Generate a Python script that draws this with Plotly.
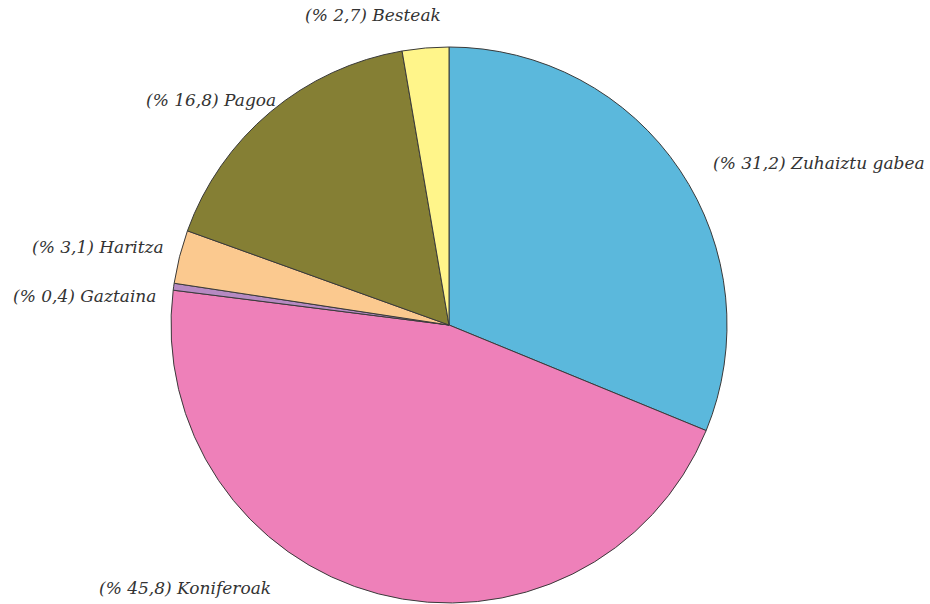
import plotly.graph_objects as go

categories = ["Zuhaiztu gabea", "Koniferoak", "Gaztaina", "Haritza", "Pagoa", "Besteak"]
values = [31.2, 45.8, 0.4, 3.1, 16.8, 2.7]
colors = ["#5BB8DC", "#EE80B9", "#B68AC2", "#FBC98F", "#857F34", "#FFF58A"]

W, H = 930, 604
cx, cy, r = 449, 325, 278

fig = go.Figure(go.Pie(
    labels=categories, values=values, sort=False, direction="clockwise", rotation=0,
    marker=dict(colors=colors, line=dict(color="#3a3a3a", width=1)),
    textinfo="none", hoverinfo="label+percent", showlegend=False,
    domain=dict(x=[(cx - r) / W, (cx + r) / W], y=[(H - cy - r) / H, (H - cy + r) / H]),
))

label_pos = {
    "Zuhaiztu gabea": (711, 163, "left"),
    "Koniferoak": (97, 588, "left"),
    "Gaztaina": (158, 296, "right"),
    "Haritza": (166, 247, "right"),
    "Pagoa": (278, 100, "right"),
    "Besteak": (373, 15, "center"),
}
for cat, v in zip(categories, values):
    x, y, anc = label_pos[cat]
    txt = "(% " + f"{v:.1f}".replace(".", ",") + ") " + cat
    fig.add_annotation(x=x / W, y=1 - y / H, xref="paper", yref="paper", text=txt,
                       showarrow=False, xanchor=anc, yanchor="middle",
                       font=dict(family="DejaVu Serif", size=17, color="#333333",
                                 style="italic"))

fig.update_layout(width=W, height=H, margin=dict(l=0, r=0, t=0, b=0),
                  paper_bgcolor="white", plot_bgcolor="white")
fig.write_html("out.html", config={"displayModeBar": False},
               post_script="document.body.style.margin='0';")
